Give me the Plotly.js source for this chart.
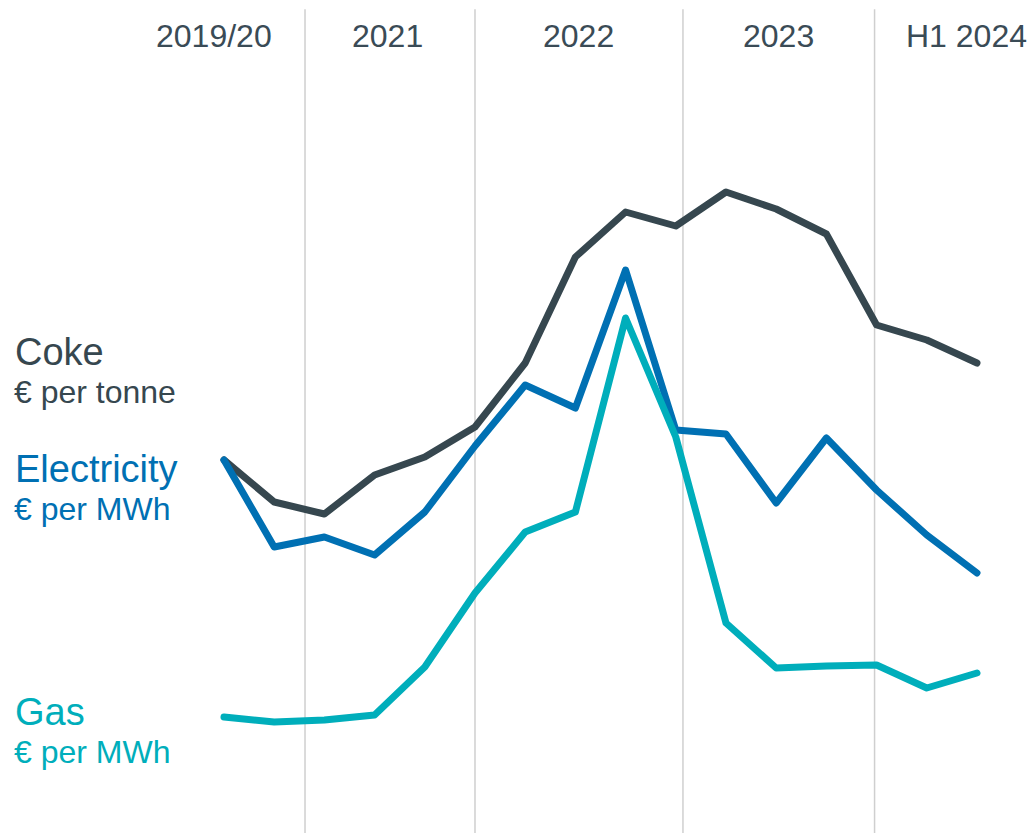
<!DOCTYPE html>
<html>
<head>
<meta charset="utf-8">
<script src="https://cdn.plot.ly/plotly-3.0.1.min.js"></script>
<style>
  html, body { margin: 0; padding: 0; background: #ffffff; }
  #chart { width: 1032px; height: 835px; }
  .js-line { stroke-linejoin: round !important; stroke-linecap: round !important; }
</style>
</head>
<body>
<div id="chart"></div>
<script>
const quarters = [0, 1, 2, 3, 4, 5, 6, 7, 8, 9, 10, 11, 12, 13, 14, 15];
const coke        = [375, 333, 321, 360, 378, 408, 472, 578, 623, 609, 643, 626, 601, 510, 495, 472];
const electricity = [375, 288, 298, 280, 323, 389, 450, 427, 565, 405, 401, 332, 397, 345, 300, 262];
const gas         = [118, 113, 115, 120, 168, 242, 303, 323, 517, 398, 212, 167, 169, 170, 147, 162];

// Period labels and boundaries (in quarter units)
const periodLabels = ['2019/20', '2021', '2022', '2023', 'H1 2024'];
const periodCenters = [-0.2, 3.25, 7.07, 11.04, 14.8];
const periodBounds = [1.614, 5.0, 9.143, 12.96];

const seriesNames = ['Coke', 'Electricity', 'Gas'];
const seriesUnits = ['€ per tonne', '€ per MWh', '€ per MWh'];
const colors = ['#36474f', '#0070b3', '#00aebb'];

const font = 'Liberation Sans, Arial, Helvetica, sans-serif';

const traces = [coke, electricity, gas].map((ys, k) => ({
  x: quarters,
  y: ys,
  type: 'scatter',
  mode: 'lines',
  name: seriesNames[k],
  line: { color: colors[k], width: 7 },
  hoverinfo: 'skip'
}));

const shapes = periodBounds.map(b => ({
  type: 'line', xref: 'x', yref: 'paper',
  x0: b, x1: b, y0: 0.0024, y1: 0.989,
  line: { color: '#cfcfcf', width: 1.5 },
  layer: 'below'
}));

const annotations = [];
periodLabels.forEach((t, i) => {
  annotations.push({
    text: t, xref: 'x', yref: 'paper', x: periodCenters[i], y: 1 - 36 / 835,
    xanchor: 'center', yanchor: 'middle', showarrow: false,
    font: { family: font, size: 32, color: '#3a4b56' }
  });
});
const nameMid = [352, 469, 712];
const unitMid = [392, 509, 752];
seriesNames.forEach((n, k) => {
  annotations.push({
    text: n, xref: 'paper', yref: 'paper', x: 13 / 1032, y: 1 - nameMid[k] / 835,
    xanchor: 'left', yanchor: 'middle', showarrow: false,
    font: { family: font, size: 38, color: colors[k] }
  });
  annotations.push({
    text: seriesUnits[k], xref: 'paper', yref: 'paper', x: 12 / 1032, y: 1 - unitMid[k] / 835,
    xanchor: 'left', yanchor: 'middle', showarrow: false,
    font: { family: font, size: 32, color: colors[k] }
  });
});

const layout = {
  width: 1032, height: 835,
  margin: { l: 0, r: 0, t: 0, b: 0, pad: 0 },
  paper_bgcolor: '#ffffff', plot_bgcolor: '#ffffff',
  showlegend: false,
  xaxis: { range: [-4.462, 16.096], visible: false, fixedrange: true },
  yaxis: { range: [0, 835], visible: false, fixedrange: true },
  shapes: shapes,
  annotations: annotations
};

Plotly.newPlot('chart', traces, layout, { displayModeBar: false, staticPlot: true });
</script>
</body>
</html>
